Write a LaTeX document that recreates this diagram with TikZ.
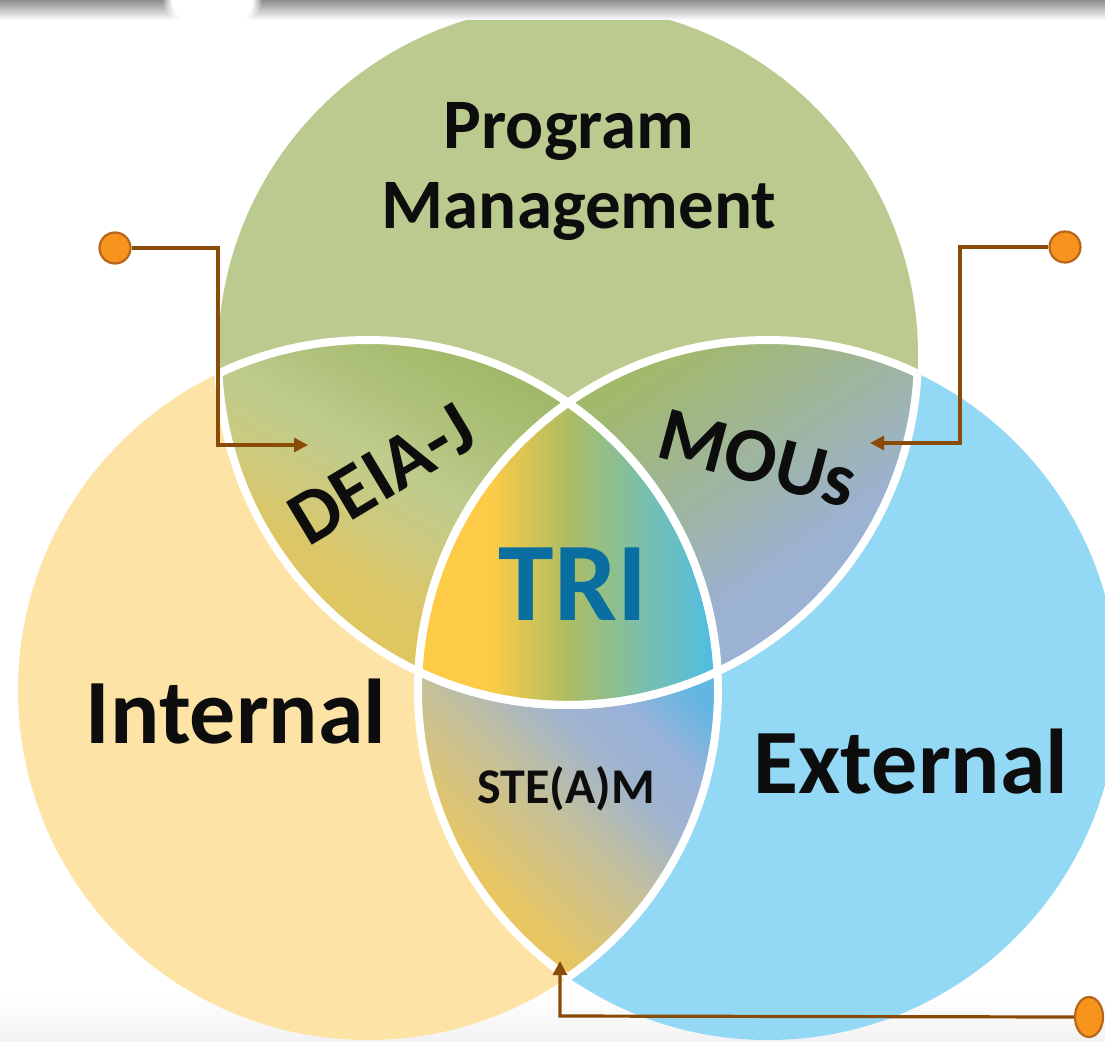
\documentclass[tikz,border=0pt]{standalone}
\usepackage{fontspec}
\setmainfont{Carlito}
\usetikzlibrary{arrows.meta,shapes.geometric,fadings}
\definecolor{pmgreen}{HTML}{BBCB8F}
\definecolor{inyellow}{HTML}{FDE4A6}
\definecolor{exblue}{HTML}{93D8F4}
\definecolor{textblack}{HTML}{0D0D0D}
\definecolor{triblue}{HTML}{0A6EA0}
\definecolor{conncol}{HTML}{8A4B08}
\definecolor{dotfill}{HTML}{F7941D}
\definecolor{dotedge}{HTML}{B8671A}
\definecolor{shadowgray}{HTML}{8C8C8C}
\definecolor{triA}{HTML}{FECB47}
\definecolor{triB}{HTML}{ADBD63}
\definecolor{triC}{HTML}{7BBFA9}
\definecolor{triD}{HTML}{4EBDE6}
\definecolor{stA}{HTML}{F3C94B}
\definecolor{stB}{HTML}{E6C565}
\definecolor{stC}{HTML}{C4C09A}
\definecolor{stD}{HTML}{A0B4CE}
\definecolor{stE}{HTML}{9AB2D8}
\definecolor{stF}{HTML}{62B6E2}
\definecolor{djA}{HTML}{E2C55A}
\definecolor{djB}{HTML}{DCC665}
\definecolor{djC}{HTML}{CFC97A}
\definecolor{djD}{HTML}{BECC8E}
\definecolor{djE}{HTML}{B0C27C}
\definecolor{djF}{HTML}{A1B869}
\definecolor{moA}{HTML}{A2B96A}
\definecolor{moB}{HTML}{A0B783}
\definecolor{moC}{HTML}{9EB4A8}
\definecolor{moD}{HTML}{9CB2D0}
\definecolor{moE}{HTML}{9BB2D8}
\pgfdeclarehorizontalshading{trishade}{100bp}{color(0bp)=(triA); color(25bp)=(triA); color(37bp)=(triA); color(50bp)=(triB); color(62bp)=(triC); color(75bp)=(triD); color(100bp)=(triD)}
\pgfdeclarehorizontalshading{steshade}{100bp}{color(0bp)=(stA); color(25bp)=(stA); color(35bp)=(stB); color(50bp)=(stC); color(62bp)=(stD); color(70bp)=(stE); color(80bp)=(stF); color(100bp)=(stF)}
\pgfdeclarehorizontalshading{djshade}{100bp}{color(0bp)=(djA); color(25bp)=(djA); color(38bp)=(djB); color(45bp)=(djC); color(55bp)=(djD); color(63bp)=(djE); color(75bp)=(djF); color(100bp)=(djF)}
\pgfdeclarehorizontalshading{moshade}{100bp}{color(0bp)=(moA); color(25bp)=(moA); color(35bp)=(moB); color(48bp)=(moC); color(60bp)=(moD); color(75bp)=(moE); color(100bp)=(moE)}
\tikzset{
  conn/.style={draw=conncol, line width=3.2pt, -{Triangle[length=14pt,width=14pt]}},
  dotnode/.style={circle, fill=dotfill, draw=dotedge, line width=2.2pt, minimum size=31pt, inner sep=0pt},
  whiteline/.style={draw=white, line width=8pt},
  lbl/.style={inner sep=0pt, text=textblack, anchor=base},
}
\begin{document}
\begin{tikzpicture}[x=1pt,y=-1pt]
\useasboundingbox (0,0) rectangle (1105,1041);
\clip (0,0) rectangle (1105,1041);
% background
\fill[white] (0,0) rectangle (1105,1041);
\shade[top color=white, bottom color=black!5] (0,995) rectangle (1105,1041);
% centres
\coordinate (G) at (568,355);
\coordinate (Y) at (368,690);
\coordinate (B) at (768,690);
% circles
\fill[pmgreen] (G) circle[radius=350pt];
\fill[inyellow] (Y) circle[radius=350pt];
\fill[exblue] (B) circle[radius=350pt];
% green & yellow
\begin{scope}
  \clip (G) circle[radius=350pt];
  \clip (Y) circle[radius=350pt];
  \shade[shading=djshade, shading angle=60] (218,338) rectangle (570,672);
\end{scope}
% green & blue
\begin{scope}
  \clip (G) circle[radius=350pt];
  \clip (B) circle[radius=350pt];
  \shade[shading=moshade, shading angle=-55] (566,338) rectangle (920,672);
\end{scope}
% yellow & blue
\begin{scope}
  \clip (Y) circle[radius=350pt];
  \clip (B) circle[radius=350pt];
  \shade[shading=steshade, shading angle=45] (418,668) rectangle (718,982);
\end{scope}
% all three
\begin{scope}
  \clip (G) circle[radius=350pt];
  \clip (Y) circle[radius=350pt];
  \clip (B) circle[radius=350pt];
  \shade[shading=trishade] (418,400) rectangle (718,706);
\end{scope}
% white separating lines
\begin{scope}\clip (Y) circle[radius=350pt]; \draw[whiteline] (G) circle[radius=350pt]; \draw[whiteline] (B) circle[radius=350pt];\end{scope}
\begin{scope}\clip (B) circle[radius=350pt]; \draw[whiteline] (G) circle[radius=350pt]; \draw[whiteline] (Y) circle[radius=350pt];\end{scope}
\begin{scope}\clip (G) circle[radius=350pt]; \draw[whiteline] (Y) circle[radius=350pt]; \draw[whiteline] (B) circle[radius=350pt];\end{scope}
% top shadow bar with soft gap
\shade[top color=shadowgray, bottom color=white] (0,0) rectangle (1105,20);
\fill[white, path fading=circle with fuzzy edge 20 percent] (212,0) ellipse[x radius=50pt, y radius=34pt];
% labels
\node[lbl, font=\bfseries\fontsize{71pt}{80pt}\selectfont] (pm1) at (569,148) {Program};
\node[lbl, font=\bfseries\fontsize{71pt}{80pt}\selectfont] (pm2) at (579,228) {Management};
\node[lbl, font=\bfseries\fontsize{92pt}{100pt}\selectfont] (int) at (236,743) {Internal};
\node[lbl, font=\bfseries\fontsize{92pt}{100pt}\selectfont] (ext) at (911,793) {External};
\node[lbl, font=\bfseries\fontsize{112pt}{120pt}\selectfont, text=triblue] (tri) at (573,620) {TRI};
\node[lbl, font=\bfseries\fontsize{50pt}{60pt}\selectfont] (steam) at (566,803) {STE(A)M};
\node[inner sep=0pt, text=textblack, font=\bfseries\fontsize{77pt}{80pt}\selectfont, rotate=31] (deia) at (382,474) {DEIA-J};
\node[inner sep=0pt, text=textblack, font=\bfseries\fontsize{77pt}{80pt}\selectfont, rotate=-15] (mous) at (758,458) {MOUs};
% connectors
\node[dotnode] (d1) at (115,248) {};
\node[dotnode] (d2) at (1065,247) {};
\node[dotnode, ellipse, minimum width=28pt, minimum height=40pt] (d3) at (1089,1017) {};
\coordinate (k1) at (218,445);
\coordinate (a1) at (308,445);
\coordinate (k2) at (960,443);
\coordinate (a2) at (870,443);
\coordinate (k3) at (560,1016);
\coordinate (a3) at (560,961);
\draw[conn] (d1.east) -| (k1) -- (a1);
\draw[conn] (d2.west) -| (k2) -- (a2);
\draw[conn] (d3.west) -- (k3) -- (a3);
\end{tikzpicture}
\end{document}
